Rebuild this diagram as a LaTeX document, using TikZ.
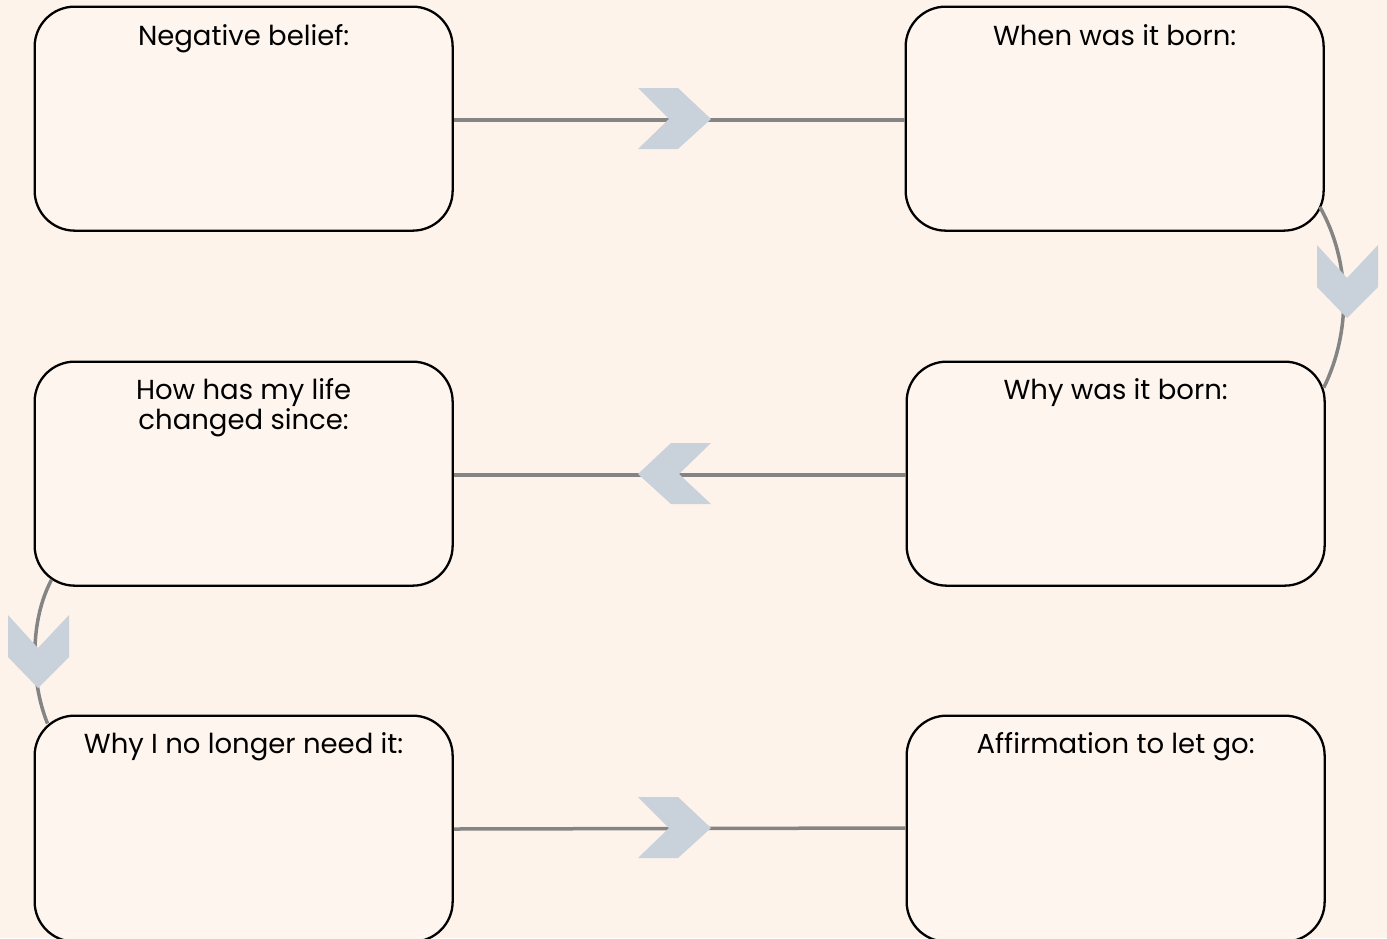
\documentclass[tikz,border=0pt]{standalone}
\usepackage{fontspec}
\setmainfont{Poppins}
\usetikzlibrary{calc}
\definecolor{bgc}{HTML}{FDF3EB}
\definecolor{boxc}{HTML}{FEF5EE}
\definecolor{linec}{HTML}{848484}
\definecolor{chevc}{HTML}{C9D1DA}
\tikzset{
  card/.style={draw=black, line width=2.3pt, fill=boxc, rounded corners=40pt,
    minimum width=418pt, minimum height=224pt, inner sep=0pt, anchor=north west},
  cardtitle/.style={anchor=north, inner sep=0pt, align=center,
    font=\fontsize{27.5}{30}\selectfont},
  conn/.style={draw=linec, line width=3.5pt},
  chevR/.pic={\fill[chevc] (-73,-31) -- (-33,-31) -- (0,0) -- (-33,30) -- (-73,30) -- (-42,0) -- cycle;},
  chevL/.pic={\fill[chevc] (0,0) -- (33,-31) -- (73,-31) -- (41,0) -- (73,30) -- (33,30) -- cycle;},
  chevD/.pic={\fill[chevc] (0,0) -- (-30,-31) -- (-30,-73) -- (0,-40) -- (31,-73) -- (31,-31) -- cycle;}
}
\begin{document}
\begin{tikzpicture}[x=1pt,y=-1pt]
\fill[bgc] (0,0) rectangle (1387,938);
\useasboundingbox (0,0) rectangle (1387,938);
\begin{scope}
\clip (0,0) rectangle (1387,938);
\node[card] (b1) at (33.5,5.5) {};
\node[card] (b2) at (904.5,5.5) {};
\node[card] (b3) at (33.5,360.5) {};
\node[card] (b4) at (905.5,360.5) {};
\node[card, minimum height=226pt] (b5) at (33.5,714.5) {};
\node[card, minimum height=226pt] (b6) at (905.5,714.5) {};

\draw[conn] ($(b1.east)+(0,1.5)$) -- ($(b2.west)+(0,1.5)$);
\draw[conn] ($(b4.west)+(0,1.5)$) -- ($(b3.east)+(0,1.5)$);
\draw[conn] ($(b5.north east)+(0,114.5)$) -- ($(b6.north west)+(0,113.5)$);
\draw[conn] ($(b2.south east)+(-5,-25)$) .. controls (1350,260) and (1352,330) .. ($(b4.north east)+(-2,27)$);
\draw[conn] ($(b3.south west)+(18,-7)$) .. controls (30,620) and (30,680) .. ($(b5.north west)+(14,9)$);

\pic at (711,119) {chevR};
\pic at (638,474) {chevL};
\pic at (711,828) {chevR};
\pic at (1347,318) {chevD};
\pic at (38,688) {chevD};

\node[cardtitle] (t1) at ($(b1.north)+(0,19)$) {Negative belief:};
\node[cardtitle] (t2) at ($(b2.north)+(0,19)$) {When was it born:};
\node[cardtitle] (t3) at ($(b3.north)+(0,18)$) {How has my life\\changed since:};
\node[cardtitle] (t4) at ($(b4.north)+(0,18)$) {Why was it born:};
\node[cardtitle] (t5) at ($(b5.north)+(0,18)$) {Why I no longer need it:};
\node[cardtitle] (t6) at ($(b6.north)+(0,18)$) {Affirmation to let go:};
\end{scope}
\end{tikzpicture}
\end{document}
